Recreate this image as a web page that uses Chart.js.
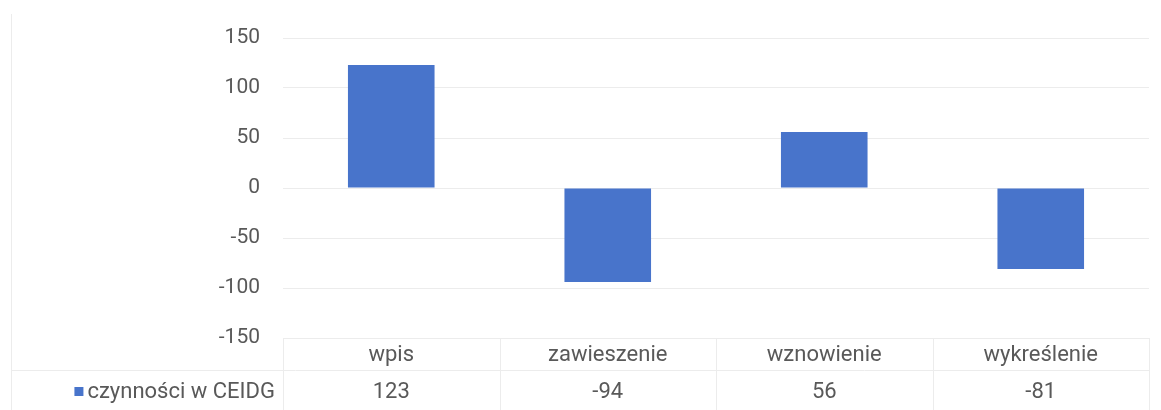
<!DOCTYPE html>
<html>
<head>
<meta charset="utf-8">
<script src="https://cdn.jsdelivr.net/npm/chart.js@4/dist/chart.umd.min.js"></script>
<style>
    html, body { margin: 0; padding: 0; background: #fff; }
    #wrap { width: 1161px; height: 410px; position: relative; }
</style>
</head>
<body>
<div id="wrap"><canvas id="ceidgChart"></canvas></div>
<script>
// Data
const categories = ['wpis', 'zawieszenie', 'wznowienie', 'wykreślenie'];
const seriesName = 'czynności w CEIDG';
const seriesValues = [123, -94, 56, -81];
const yTicks = [-150, -100, -50, 0, 50, 100, 150];

const barColor = '#4874cb';
const textColor = '#595959';
const lineColor = '#ececec';

// Data table under the plot (Excel style)
const dataTablePlugin = {
    id: 'dataTable',
    afterDraw(chart) {
        const ctx = chart.ctx;
        const area = chart.chartArea;
        const x = chart.scales.x;
        const n = categories.length;
        const step = (area.right - area.left) / n;
        const row1 = area.bottom + 17;
        const row2 = area.bottom + 54;

        ctx.save();
        ctx.strokeStyle = lineColor;
        ctx.lineWidth = 1;
        ctx.beginPath();
        // frame line on the left
        ctx.moveTo(11.5, 14);
        ctx.lineTo(11.5, 410);
        // table top and row divider
        ctx.moveTo(area.left, area.bottom + 0.5);
        ctx.lineTo(area.right, area.bottom + 0.5);
        ctx.moveTo(11, area.bottom + 32.5);
        ctx.lineTo(area.right, area.bottom + 32.5);
        for (let i = 0; i <= n; i++) {
            const lx = Math.round(area.left + i * step) + 0.5;
            ctx.moveTo(lx, area.bottom);
            ctx.lineTo(lx, 410);
        }
        ctx.stroke();

        ctx.fillStyle = textColor;
        ctx.font = '22px Roboto';
        ctx.textAlign = 'center';
        ctx.textBaseline = 'middle';
        categories.forEach((c, i) => {
            const cx = x.getPixelForValue(i);
            ctx.fillText(c, cx, row1);
            ctx.fillText(String(seriesValues[i]), cx, row2);
        });

        // legend key + series name
        ctx.textAlign = 'right';
        ctx.fillText(seriesName, area.left - 8, row2);
        const w = ctx.measureText(seriesName).width;
        ctx.fillStyle = barColor;
        ctx.fillRect(area.left - 8 - w - 13, row2 - 5, 9, 9);
        ctx.restore();
    }
};

new Chart(document.getElementById('ceidgChart'), {
    type: 'bar',
    data: {
        labels: categories,
        datasets: [{
            label: seriesName,
            data: seriesValues,
            backgroundColor: barColor,
            borderWidth: 0,
            categoryPercentage: 1,
            barPercentage: 0.4
        }]
    },
    options: {
        responsive: true,
        maintainAspectRatio: false,
        animation: false,
        layout: {
            padding: { top: 38, bottom: 72, left: 0, right: 12 }
        },
        plugins: {
            legend: { display: false },
            tooltip: { enabled: false }
        },
        scales: {
            x: {
                display: false
            },
            y: {
                min: -150,
                max: 150,
                afterBuildTicks(scale) {
                    scale.ticks = yTicks.map(v => ({ value: v }));
                },
                afterFit(scale) {
                    scale.width = 283;
                },
                border: { display: false },
                grid: {
                    color: lineColor,
                    drawTicks: false
                },
                ticks: {
                    color: textColor,
                    padding: 23,
                    font: { family: 'Roboto', size: 21 }
                }
            }
        }
    },
    plugins: [dataTablePlugin]
});
</script>
</body>
</html>
